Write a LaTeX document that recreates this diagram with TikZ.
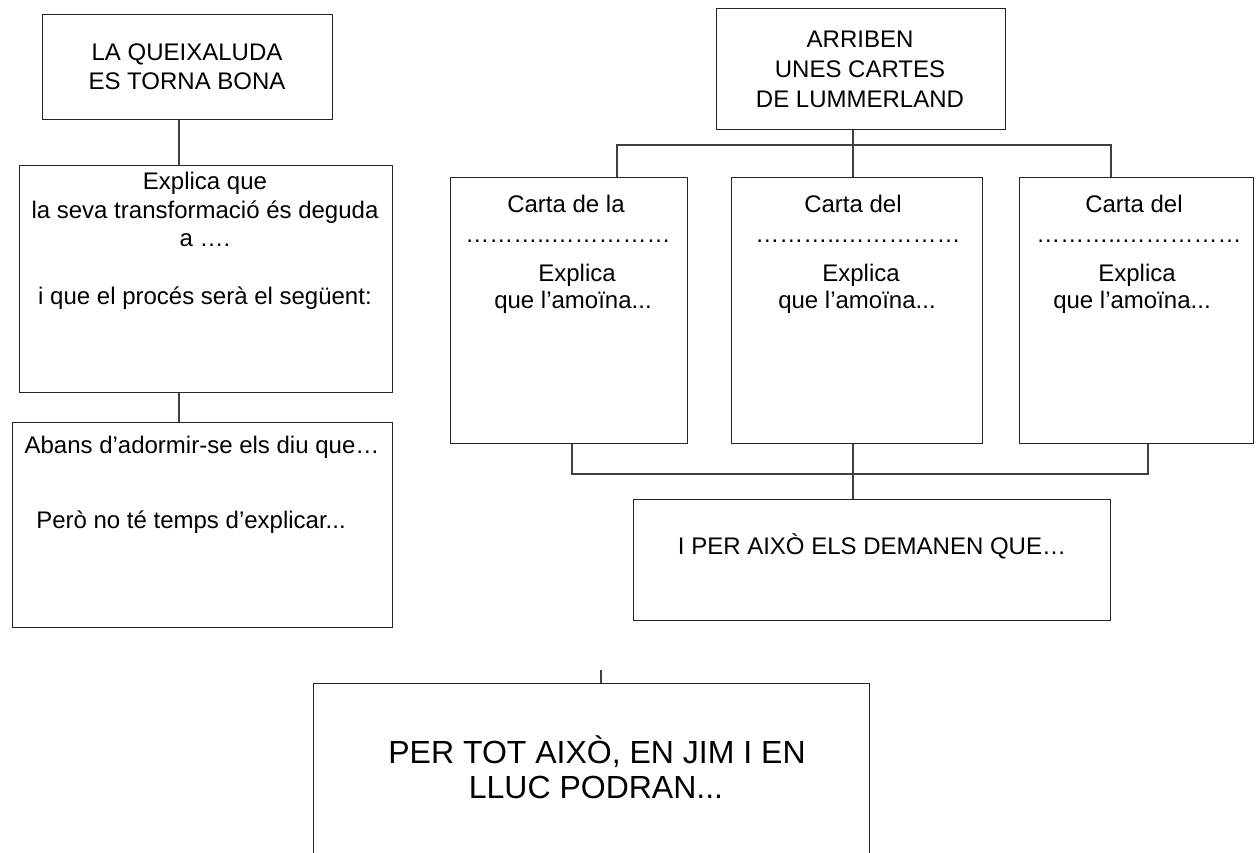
\documentclass[tikz,border=0pt]{standalone}
\usepackage{fontspec}
\setmainfont{Liberation Sans}
\begin{document}
\begin{tikzpicture}[x=1pt,y=-1pt,
  box/.style={draw=black!85, line width=1.1pt, inner sep=0pt, anchor=north west},
  txt/.style={font=\fontsize{24}{28}\selectfont, inner sep=0pt, anchor=base},
  bigtxt/.style={font=\fontsize{32}{36}\selectfont, inner sep=0pt, anchor=base},
  link/.style={draw=black!75, line width=1.1pt}]
\useasboundingbox (0,0) rectangle (1258,853);
\clip (0,0) rectangle (1258,853);

% ---------- left column ----------
\node[box, minimum width=290pt, minimum height=105pt] (b1) at (42,14) {};
\node[txt] (b1a) at (187,61) {LA QUEIXALUDA};
\node[txt] (b1b) at (187,90) {ES TORNA BONA};

\node[box, minimum width=373pt, minimum height=227pt] (b2) at (19,165) {};
\node[txt] (b2a) at (205,190) {Explica que};
\node[txt] (b2b) at (205,218.5) {la seva transformació és deguda};
\node[txt] (b2c) at (205,247) {a ….};
\node[txt] (b2d) at (205,304.5) {i que el procés serà el següent:};

\node[box, minimum width=380pt, minimum height=205pt] (b3) at (12,422) {};
\node[txt] (b3a) at (202,453) {Abans d’adormir-se els diu que…};
\node[txt] (b3b) at (191,528) {Però no té temps d’explicar...};

\coordinate (k1) at (179,0);
\draw[link] (b1.south -| k1) -- (b2.north -| k1);
\draw[link] (b2.south -| k1) -- (b3.north -| k1);

% ---------- right part ----------
\node[box, minimum width=289pt, minimum height=121pt] (a) at (716,8) {};
\node[txt] (aa) at (860,48) {ARRIBEN};
\node[txt] (ab) at (860,78) {UNES CARTES};
\node[txt] (ac) at (860,108) {DE LUMMERLAND};

\node[box, minimum width=237pt, minimum height=266pt] (c1) at (450,177) {};
\node[box, minimum width=251pt, minimum height=266pt] (c2) at (731,177) {};
\node[box, minimum width=234pt, minimum height=266pt] (c3) at (1019,177) {};

\node[txt] (c1a) at (566,213) {Carta de la};
\node[txt] (c1b) at (568,243) {………..……………};
\node[txt] (c1c) at (577,281) {Explica};
\node[txt] (c1d) at (573,308) {que l’amoïna...};

\node[txt] (c2a) at (853,213) {Carta del};
\node[txt] (c2b) at (858,243) {………..……………};
\node[txt] (c2c) at (861,281) {Explica};
\node[txt] (c2d) at (857,308) {que l’amoïna...};

\node[txt] (c3a) at (1134,213) {Carta del};
\node[txt] (c3b) at (1139,243) {………..……………};
\node[txt] (c3c) at (1137,281) {Explica};
\node[txt] (c3d) at (1132,308) {que l’amoïna...};

\coordinate (t1) at (617,145);
\coordinate (t2) at (853,145);
\coordinate (t3) at (1111,145);
\draw[link] (a.south -| t2) -- (c2.north -| t2);
\draw[link] (c1.north -| t1) -- (t1) -- (t3) -- (c3.north -| t3);

\node[box, minimum width=477pt, minimum height=121pt] (d) at (633,499) {};
\node[txt] (da) at (872,554) {I PER AIXÒ ELS DEMANEN QUE…};

\coordinate (u1) at (572,474);
\coordinate (u2) at (853,474);
\coordinate (u3) at (1148,474);
\draw[link] (c1.south -| u1) -- (u1) -- (u3) -- (c3.south -| u3);
\draw[link] (c2.south -| u2) -- (d.north -| u2);

% ---------- final box ----------
\node[box, minimum width=556pt, minimum height=220pt] (f) at (313,683) {};
\node[bigtxt] (fa) at (597,763) {PER TOT AIXÒ, EN JIM I EN};
\node[bigtxt] (fb) at (596,798) {LLUC PODRAN...};
\coordinate (v) at (601,670);
\draw[link] (v) -- (f.north -| v);
\end{tikzpicture}
\end{document}
